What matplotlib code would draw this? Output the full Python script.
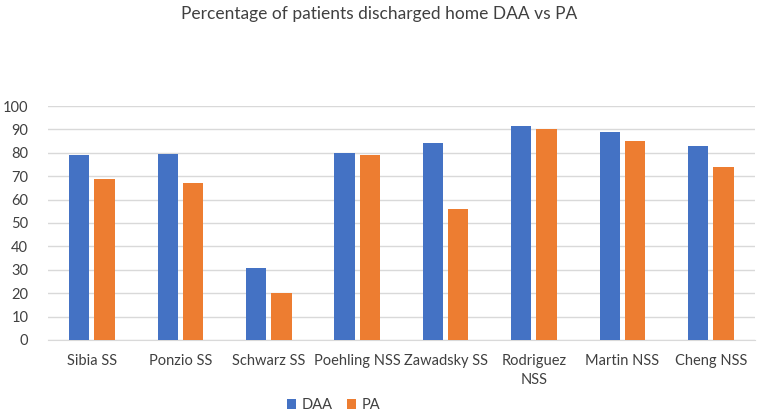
import numpy as np
import matplotlib.pyplot as plt

plt.rcParams['font.family'] = ['Lato', 'DejaVu Sans']

studies = ["Sibia SS", "Ponzio SS", "Schwarz SS", "Poehling NSS", "Zawadsky SS",
           "Rodriguez\nNSS", "Martin NSS", "Cheng NSS"]
daa = [79, 79.6, 30.6, 80, 84, 91.5, 89, 83]
pa = [68.7, 67, 20, 79, 56, 90, 85, 74]

blue = '#4472C4'
orange = '#ED7D31'

fig = plt.figure(figsize=(7.58, 4.11), dpi=100)
ax = fig.add_axes([0.063, 0.173, 0.933, 0.569])

x = np.arange(len(studies))
w = 0.23
ax.bar(x - 0.143, daa, w, color=blue, label='DAA', zorder=3)
ax.bar(x + 0.143, pa, w, color=orange, label='PA', zorder=3)

ax.set_xlim(-0.5, len(studies) - 0.5)
ax.set_ylim(0, 100)
ax.set_yticks(range(0, 101, 10))
ax.set_xticks(x)
ax.set_xticklabels(studies, fontsize=10.5, color='#404040', linespacing=1.5)
ax.tick_params(axis='y', labelsize=10.5, labelcolor='#404040', length=0, pad=14)
ax.tick_params(axis='x', length=0, pad=10)
ax.grid(axis='y', color='#D9D9D9', linewidth=1, zorder=0)
for s in ['top', 'right', 'left']:
    ax.spines[s].set_visible(False)
ax.spines['bottom'].set_color('#D9D9D9')

fig.text(0.5, 1 - 14 / 411, "Percentage of patients discharged home DAA vs PA",
         fontsize=12.5, color='#404040', ha='center', va='center')

fig.legend(loc='lower center', bbox_to_anchor=(0.44, -0.035), ncol=2, frameon=False,
           fontsize=10.5, handlelength=0.6, handleheight=0.6, handletextpad=0.4,
           columnspacing=1.0, labelcolor='#404040')

plt.savefig("out.png", dpi=100)
